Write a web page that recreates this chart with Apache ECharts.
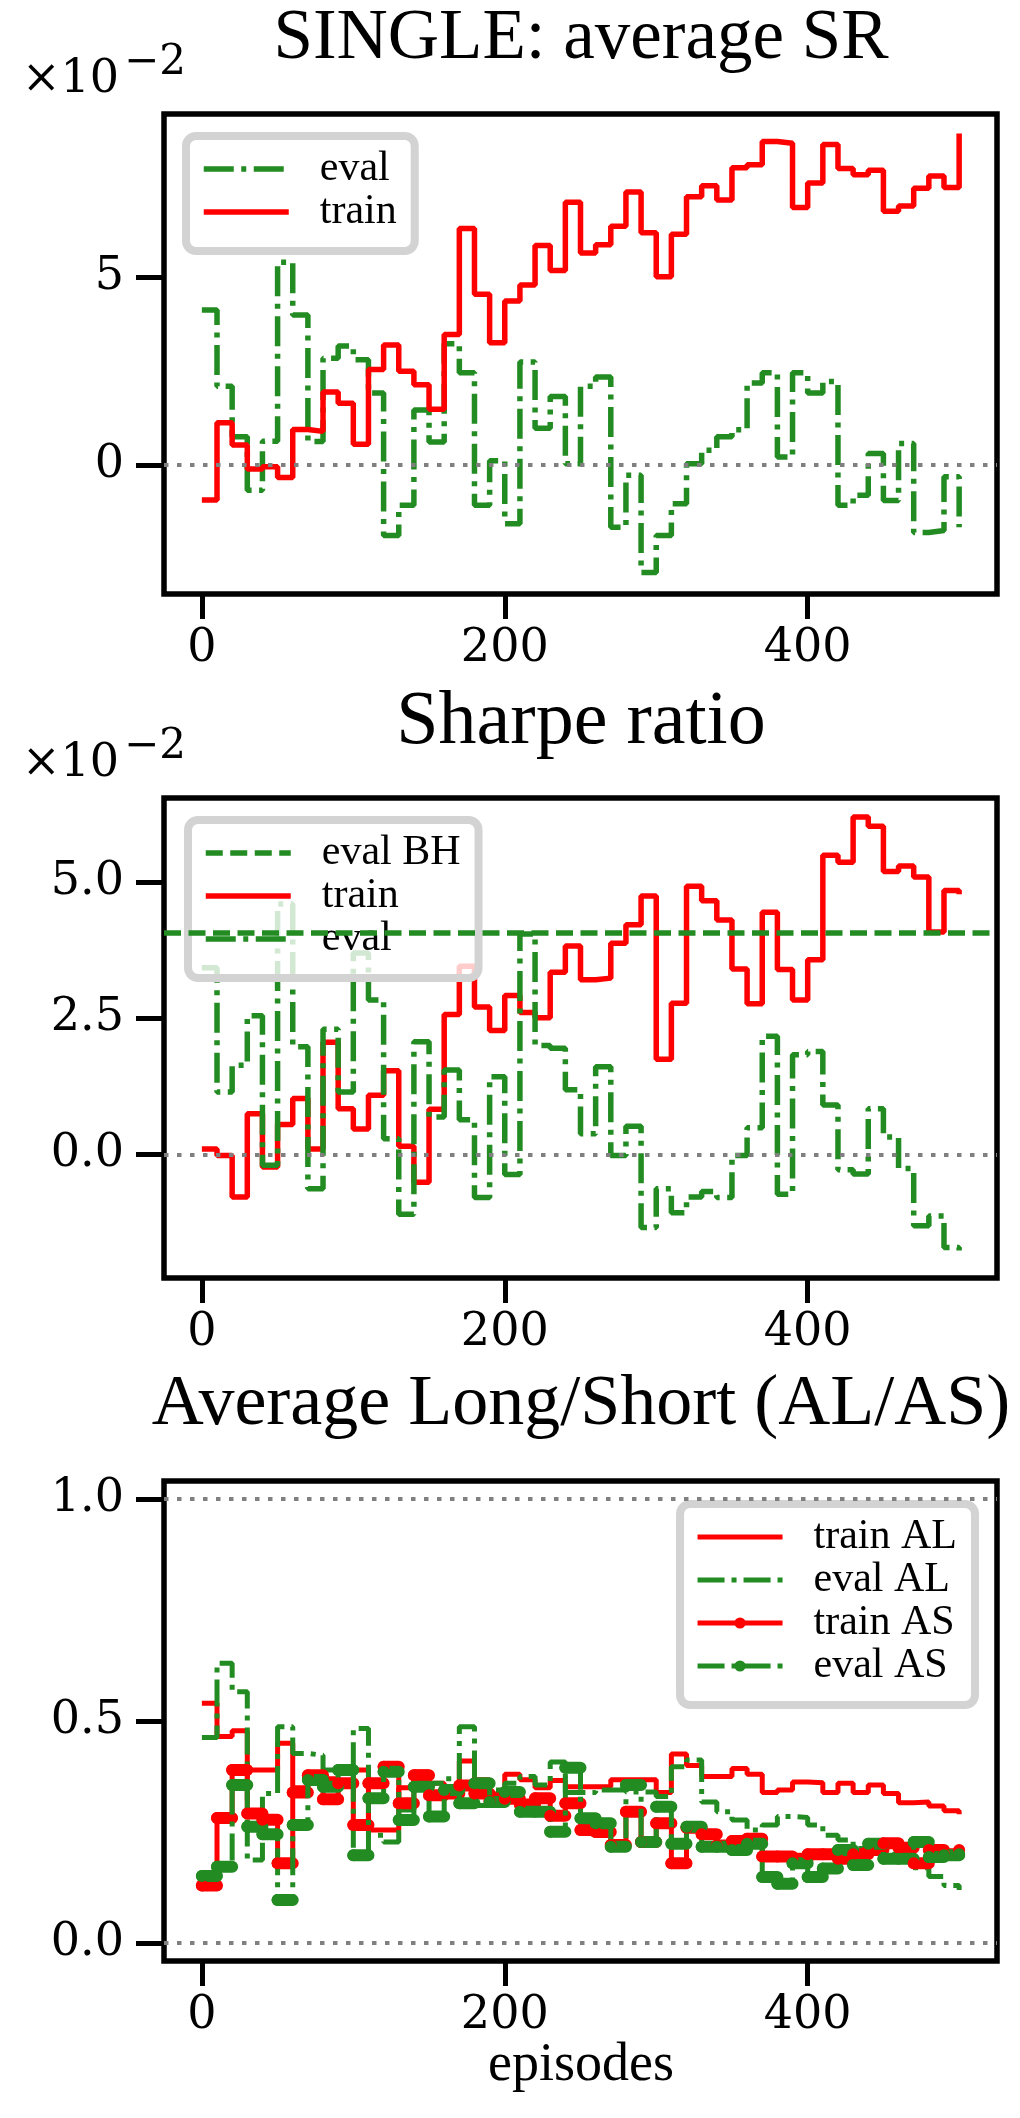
<!DOCTYPE html>
<html>
<head>
<meta charset="utf-8">
<script src="https://cdn.jsdelivr.net/npm/echarts@6/dist/echarts.min.js"></script>
<style>
  html, body { margin: 0; padding: 0; background: #fff; }
  #chart { width: 1020px; height: 2118px; }
</style>
</head>
<body>
<div id="chart"></div>
<script>
// episodes at which every curve is sampled
const episodes = [0, 10, 20, 30, 40, 50, 60, 70, 80, 90, 100, 110, 120, 130, 140, 150, 160, 170, 180, 190,
  200, 210, 220, 230, 240, 250, 260, 270, 280, 290, 300, 310, 320, 330, 340, 350, 360, 370, 380, 390,
  400, 410, 420, 430, 440, 450, 460, 470, 480, 490, 500];
const xTicks = [0, 200, 400];

// panel 1: SINGLE average SR (units of 1e-2)
const srTrain = [-0.93, 1.13, 0.54, -0.1, -0.04, -0.33, 0.95, 0.9, 1.95, 1.65, 0.56, 2.55, 3.2, 2.5, 2.14, 1.49, 3.48, 6.3, 4.55, 3.26,
  4.37, 4.8, 5.85, 5.18, 7.0, 5.65, 5.87, 6.36, 7.27, 6.19, 5.02, 6.15, 7.15, 7.44, 7.06, 7.92, 8.0, 8.62, 8.57, 6.86,
  7.51, 8.54, 7.9, 7.73, 7.85, 6.76, 6.9, 7.37, 7.7, 7.39, 8.83];
const srEval = [4.13, 2.1, 0.76, -0.67, 0.64, 5.4, 4.0, 0.63, 2.85, 3.17, 2.81, 1.92, -1.87, -1.07, 1.47, 0.62, 3.23, 2.46, -1.07, 0.12,
  -1.56, 2.75, 0.98, 1.83, 0.04, 2.1, 2.35, -1.65, -0.27, -2.86, -1.87, -1.03, 0.04, 0.4, 0.76, 0.94, 2.19, 2.46, 0.22, 2.46,
  1.92, 2.23, -1.07, -0.8, 0.31, -0.94, 0.58, -1.79, -1.74, -0.31, -1.65];
const srTicks = [0, 5];

// panel 2: Sharpe ratio (units of 1e-2)
const shTrain = [0.1, -0.02, -0.78, 0.75, -0.23, 0.55, 1.03, 0.1, 2.06, 0.84, 0.47, 1.09, 1.54, 0.15, -0.51, 0.83, 2.57, 3.46, 2.71, 2.28,
  2.92, 2.61, 2.51, 3.35, 3.83, 3.21, 3.24, 3.88, 4.22, 4.75, 1.75, 2.78, 4.93, 4.66, 4.31, 3.41, 2.77, 4.45, 3.4, 2.84,
  3.58, 5.5, 5.37, 6.2, 6.03, 5.2, 5.3, 5.1, 4.09, 4.85, 4.78];
const shEval = [3.43, 1.15, 1.64, 2.55, -0.2, 4.6, 1.98, -0.63, 2.3, 1.15, 3.7, 2.84, 0.29, -1.1, 2.07, 0.69, 1.55, 0.64, -0.79, 1.43,
  -0.37, 4.05, 2.0, 1.95, 1.19, 0.38, 1.61, -0.02, 0.52, -1.34, -0.63, -1.07, -0.78, -0.68, -0.79, -0.02, 0.49, 2.17, -0.73, 1.83,
  1.89, 0.91, -0.28, -0.36, 0.84, 0.32, -0.26, -1.31, -1.13, -1.71, -1.8];
const shEvalBH = 4.07;
const shTicks = [0, 2.5, 5];

// panel 3: average long / short
const trainAL = [0.54, 0.465, 0.478, 0.39, 0.39, 0.45, 0.35, 0.38, 0.37, 0.365, 0.39, 0.255, 0.255, 0.35, 0.385, 0.36, 0.336, 0.41, 0.368, 0.336,
  0.38, 0.368, 0.35, 0.366, 0.352, 0.352, 0.352, 0.368, 0.368, 0.368, 0.339, 0.426, 0.40, 0.375, 0.375, 0.393, 0.38, 0.339, 0.345, 0.363,
  0.361, 0.339, 0.36, 0.339, 0.356, 0.337, 0.316, 0.318, 0.309, 0.298, 0.29];
const evalAL = [0.463, 0.63, 0.566, 0.187, 0.337, 0.487, 0.427, 0.423, 0.39, 0.39, 0.483, 0.243, 0.228, 0.3, 0.35, 0.36, 0.37, 0.487, 0.31, 0.345,
  0.36, 0.375, 0.356, 0.408, 0.339, 0.339, 0.345, 0.345, 0.34, 0.34, 0.33, 0.397, 0.412, 0.318, 0.296, 0.277, 0.255, 0.266, 0.285, 0.283,
  0.266, 0.243, 0.232, 0.213, 0.22, 0.2, 0.19, 0.17, 0.15, 0.13, 0.12];
const trainAS = [0.13, 0.282, 0.39, 0.292, 0.278, 0.18, 0.339, 0.378, 0.324, 0.36, 0.266, 0.36, 0.397, 0.315, 0.378, 0.333, 0.337, 0.355, 0.337, 0.32,
  0.325, 0.312, 0.326, 0.287, 0.315, 0.255, 0.25, 0.221, 0.296, 0.228, 0.27, 0.18, 0.26, 0.245, 0.22, 0.23, 0.235, 0.195, 0.195, 0.19,
  0.2, 0.2, 0.19, 0.2, 0.21, 0.225, 0.215, 0.18, 0.21, 0.2, 0.21];
const evalAS = [0.151, 0.172, 0.356, 0.262, 0.245, 0.097, 0.266, 0.367, 0.352, 0.39, 0.198, 0.326, 0.386, 0.277, 0.352, 0.285, 0.345, 0.315, 0.36, 0.318,
  0.34, 0.296, 0.296, 0.251, 0.395, 0.281, 0.27, 0.217, 0.356, 0.228, 0.307, 0.224, 0.262, 0.217, 0.217, 0.21, 0.224, 0.149, 0.134, 0.18,
  0.149, 0.168, 0.21, 0.176, 0.224, 0.19, 0.19, 0.228, 0.194, 0.198, 0.2];
const alTicks = [0, 0.5, 1];

const RED = '#ff0000';
const GREEN = '#228b22';
const GREY = '#808080';
const SERIF = '"Liberation Serif", "DejaVu Serif", serif';
const TICKFONT = '"DejaVu Serif", serif';
const DASHDOT = [30, 7.5, 5, 7.5];
const DASHDOT3 = [27, 7, 5, 7];
const DASHED = [17, 7.5];
const DOTTED = [4.5, 8.5];
const LW = 5.5;   // line width, panels 1 and 2
const LW3 = 5;    // line width, panel 3

const tops = [114, 798, 1481];
const GRID_H = 480;

function pairs(vals) {
  return episodes.map((e, i) => [e, vals[i]]);
}

// horizontal pieces of a step curve, drawn thick with round caps
function pills(vals) {
  const out = [];
  for (let i = 0; i < vals.length - 1; i++) {
    out.push([episodes[i], vals[i]], [episodes[i + 1], vals[i]], [episodes[i + 1], '-']);
  }
  return out;
}

function hlines(values, style) {
  return {
    silent: true,
    symbol: ['none', 'none'],
    label: { show: false },
    emphasis: { disabled: true },
    lineStyle: style,
    data: values.map(v => ({ yAxis: v }))
  };
}

const zeroStyle = { color: GREY, width: 4, type: DOTTED };

const grids = tops.map(t => ({
  left: 164, width: 833, top: t, height: GRID_H,
  show: true, borderColor: '#000', borderWidth: 5.5, backgroundColor: 'transparent'
}));

const xAxes = tops.map((t, i) => ({
  type: 'value', gridIndex: i, min: -25, max: 525,
  axisLine: { show: false, onZero: false },
  splitLine: { show: false },
  axisTick: { show: true, length: 25, lineStyle: { color: '#000', width: 5 }, customValues: xTicks },
  axisLabel: { customValues: xTicks, fontFamily: TICKFONT, fontSize: 46, color: '#000', margin: 32 }
}));

function yAxis(i, min, max, ticks, digits) {
  return {
    type: 'value', gridIndex: i, min: min, max: max,
    axisLine: { show: false, onZero: false },
    splitLine: { show: false },
    axisTick: { show: true, length: 28, lineStyle: { color: '#000', width: 5 }, customValues: ticks },
    axisLabel: {
      customValues: ticks, fontFamily: TICKFONT, fontSize: 46, color: '#000', margin: 40,
      formatter: v => v.toFixed(digits)
    }
  };
}

const yAxes = [
  yAxis(0, -3.43, 9.35, srTicks, 0),
  yAxis(1, -2.27, 6.55, shTicks, 1),
  yAxis(2, -0.04, 1.04, alTicks, 1)
];

function line(name, idx, vals, color, type, width) {
  return {
    name: name, type: 'line', xAxisIndex: idx, yAxisIndex: idx,
    data: pairs(vals), step: 'end', symbol: 'none',
    lineStyle: { color: color, width: width, type: type },
    itemStyle: { color: color }
  };
}

const s1eval = line('eval', 0, srEval, GREEN, DASHDOT, LW);
s1eval.markLine = hlines([0], zeroStyle);
const s1train = line('train', 0, srTrain, RED, 'solid', LW);

const s2bh = {
  name: 'eval BH', type: 'line', xAxisIndex: 1, yAxisIndex: 1, data: [], symbol: 'none',
  lineStyle: { color: GREEN, width: LW, type: DASHED },
  itemStyle: { color: GREEN },
  markLine: hlines([shEvalBH], { color: GREEN, width: LW, type: DASHED })
};
const s2train = line('train', 1, shTrain, RED, 'solid', LW);
s2train.markLine = hlines([0], zeroStyle);
const s2eval = line('eval', 1, shEval, GREEN, DASHDOT, LW);

const s3trainAL = line('train AL', 2, trainAL, RED, 'solid', LW3);
s3trainAL.markLine = hlines([0, 1], zeroStyle);
const s3evalAL = line('eval AL', 2, evalAL, GREEN, DASHDOT3, LW3);

function asSeries(name, vals, color, type) {
  const s = line(name, 2, vals, color, type, LW3);
  s.symbol = 'circle';
  s.symbolSize = 12;
  s.showAllSymbol = true;
  return s;
}
function pillSeries(name, vals, color) {
  return {
    name: name, type: 'line', xAxisIndex: 2, yAxisIndex: 2,
    data: pills(vals), symbol: 'none', connectNulls: false,
    lineStyle: { color: color, width: 12, cap: 'round', join: 'round' },
    itemStyle: { color: color }
  };
}

const series = [
  s1eval, s1train,
  s2bh, s2train, s2eval,
  s3trainAL, s3evalAL,
  asSeries('train AS', trainAS, RED, 'solid'), pillSeries('train AS beads', trainAS, RED),
  asSeries('eval AS', evalAS, GREEN, DASHDOT3), pillSeries('eval AS beads', evalAS, GREEN)
];

const legendBase = {
  orient: 'vertical',
  selectedMode: false,
  backgroundColor: 'rgba(255,255,255,0.8)',
  borderColor: '#d3d3d3',
  borderWidth: 8,
  borderRadius: 10,
  padding: [12, 18, 18, 15],
  itemWidth: 85,
  itemHeight: 14,
  itemGap: 1,
  lineStyle: { width: LW },
  textStyle: { fontFamily: SERIF, fontSize: 42, color: '#000', lineHeight: 42, padding: [0, 0, 0, 26] }
};

// plain line entries: hide the marker the legend would otherwise add
function plain(name) {
  return { name: name, itemStyle: { opacity: 0 } };
}

const legends = [
  Object.assign({}, legendBase, { left: 186, top: 136, data: [plain('eval'), plain('train')] }),
  Object.assign({}, legendBase, { left: 188, top: 820, data: [plain('eval BH'), plain('train'), plain('eval')] }),
  Object.assign({}, legendBase, {
    right: 45, top: 1504, lineStyle: { width: LW3 },
    data: [plain('train AL'), plain('eval AL'), 'train AS', 'eval AS']
  })
];

function label(text, x, y, size, family, align) {
  return {
    type: 'text', x: x, y: y, silent: true, z: 100,
    style: {
      text: text, fill: '#000', font: size + 'px ' + family,
      align: align, verticalAlign: 'middle',
      textAlign: align, textVerticalAlign: 'middle'
    }
  };
}

const graphics = [
  label('SINGLE: average SR', 581, 39, 71, SERIF, 'center'),
  label('Sharpe ratio', 581, 723, 76, SERIF, 'center'),
  label('Average Long/Short (AL/AS)', 581, 1405, 72, SERIF, 'center'),
  label('episodes', 581, 2066, 54, SERIF, 'center'),
  label('×10', 22, 80, 46, TICKFONT, 'left'),
  label('−2', 124, 63, 42, TICKFONT, 'left'),
  label('×10', 22, 764, 46, TICKFONT, 'left'),
  label('−2', 124, 747, 42, TICKFONT, 'left')
];

const chart = echarts.init(document.getElementById('chart'), null, { renderer: 'canvas', width: 1020, height: 2118 });
chart.setOption({
  animation: false,
  backgroundColor: '#fff',
  grid: grids,
  xAxis: xAxes,
  yAxis: yAxes,
  legend: legends,
  series: series,
  graphic: graphics
});
</script>
</body>
</html>
